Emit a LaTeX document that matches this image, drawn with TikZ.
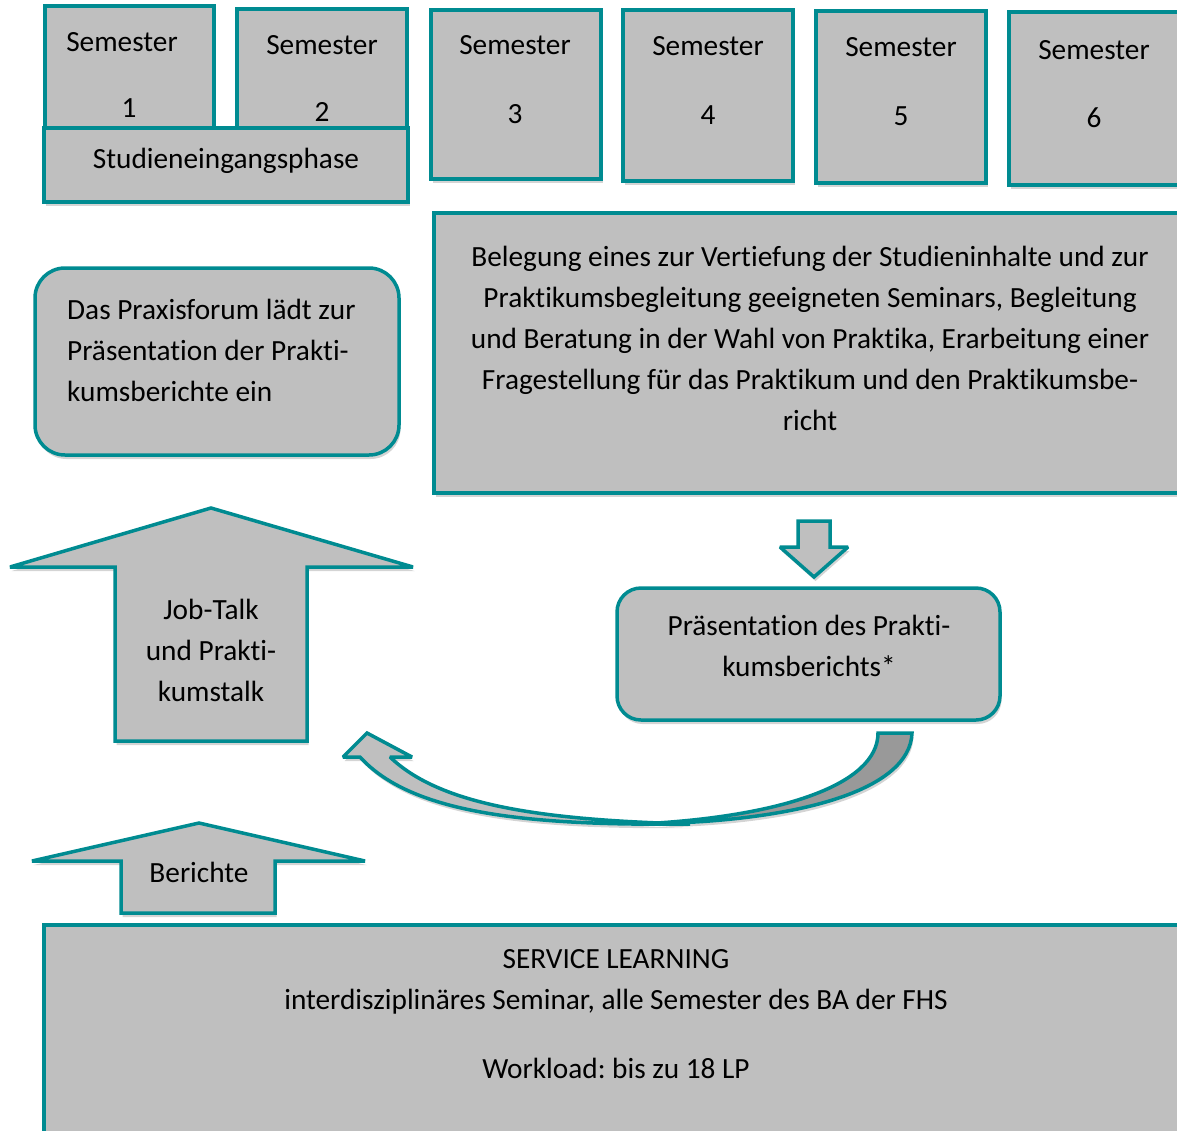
\documentclass[tikz,border=0pt]{standalone}
\usepackage{fontspec}
\setmainfont{Carlito}[Ligatures=NoCommon]
\frenchspacing
\definecolor{teal1}{RGB}{0,139,145}
\definecolor{fillg}{RGB}{191,191,191}
\definecolor{darkg}{RGB}{153,153,153}
\definecolor{shadg}{RGB}{212,212,212}
\tikzset{
  shad/.style={preaction={fill=shadg, draw=none, transform canvas={xshift=1.5pt,yshift=-4pt}}},
  box/.style={shad, draw=teal1, fill=fillg, line width=3.5pt, inner sep=0pt, outer sep=0pt, anchor=north west},
  rbox/.style={box, rounded corners=28pt},
  shapebody/.style={shad, draw=teal1, fill=fillg, line width=3.5pt, line join=miter, miter limit=2.5},
  txt/.style={inner sep=0pt, font=\fontsize{29.3}{41}\selectfont, text=black}
}
\begin{document}
\begin{tikzpicture}[x=1pt,y=-1pt]
\useasboundingbox (0,0) rectangle (1177,1130);
% semester boxes
\node[box, minimum width=169pt, minimum height=122pt] (s1) at (45,6) {};
\node[box, minimum width=170pt, minimum height=119pt] (s2) at (237,9) {};
\node[box, minimum width=364pt, minimum height=74pt] (sep) at (44,128) {};
\node[box, minimum width=170pt, minimum height=169pt] (s3) at (431,10) {};
\node[box, minimum width=170pt, minimum height=171pt] (s4) at (623,10) {};
\node[box, minimum width=170pt, minimum height=172pt] (s5) at (816,11) {};
\node[box, minimum width=181pt, minimum height=173pt] (s6) at (1009,12) {};
\node[txt] (s1a) at (122,42) {Semester};
\node[txt] (s1b) at (129,108) {1};
\node[txt] (s2a) at (322,45) {Semester};
\node[txt] (s2b) at (322,112) {2};
\node[txt] (s3a) at (515,45) {Semester};
\node[txt] (s3b) at (515,114) {3};
\node[txt] (s4a) at (708,46) {Semester};
\node[txt] (s4b) at (708,115) {4};
\node[txt] (s5a) at (901,47) {Semester};
\node[txt] (s5b) at (901,116) {5};
\node[txt] (s6a) at (1094,50) {Semester};
\node[txt] (s6b) at (1094,118) {6};
\node[txt] (sept) at (226,161) {Studieneingangsphase};
% Belegung box
\node[box, minimum width=760pt, minimum height=280pt] (beleg) at (434,213) {};
\node[txt, align=center] (belegt) at (810,338) {Belegung eines zur Vertiefung der Studieninhalte und zur\\Praktikumsbegleitung geeigneten Seminars, Begleitung\\und Beratung in der Wahl von Praktika, Erarbeitung einer\\Fragestellung für das Praktikum und den Praktikumsbe-\\richt};
% Praxisforum
\node[rbox, rounded corners=30pt, minimum width=364pt, minimum height=187pt] (praxis) at (35,268) {};
\node[txt, align=left, anchor=west] (praxist) at (67,350) {Das Praxisforum lädt zur\\Präsentation der Prakti-\\kumsberichte ein};
% down arrow
\path[shapebody] (798,521) -- (830,521) -- (830,547) -- (848,547) -- (814,577) -- (780,547) -- (798,547) -- cycle;
% Praesentation
\node[rbox, rounded corners=24pt, minimum width=383pt, minimum height=132pt] (praes) at (617,588) {};
\node[txt, align=center] (praest) at (809,646) {Präsentation des Prakti-\\kumsberichts*};
% Job-Talk arrow
\path[shapebody] (115,741) -- (115,567) -- (10,567) -- (211,508) -- (413,567) -- (307,567) -- (307,741) -- cycle;
\node[txt, align=center] (jobt) at (211,650) {Job-Talk\\und Prakti-\\kumstalk};
% curved arrow
\path[shapebody, fill=darkg] (878,733) -- (912,733) .. controls (910,790) and (800,822) .. (640,824) .. controls (780,817) and (878,785) .. (878,733) -- cycle;
\path[shapebody] (390,757) -- (412,757) -- (367,733) -- (343,757) -- (360,757) .. controls (410,812) and (520,826) .. (690,824) .. controls (540,820) and (440,805) .. (390,757) -- cycle;
% Berichte arrow
\path[shapebody] (121,913) -- (121,861) -- (32,861) -- (199,823) -- (365,861) -- (275,861) -- (275,913) -- cycle;
\node[txt] (bert) at (199,872) {Berichte};
% Service learning
\node[box, minimum width=1150pt, minimum height=220pt] (serv) at (44,925) {};
\node[txt, align=center] (servt) at (616,982) {SERVICE LEARNING\\interdisziplinäres Seminar, alle Semester des BA der FHS};
\node[txt] (servw) at (616,1068) {Workload: bis zu 18 LP};
\end{tikzpicture}
\end{document}
